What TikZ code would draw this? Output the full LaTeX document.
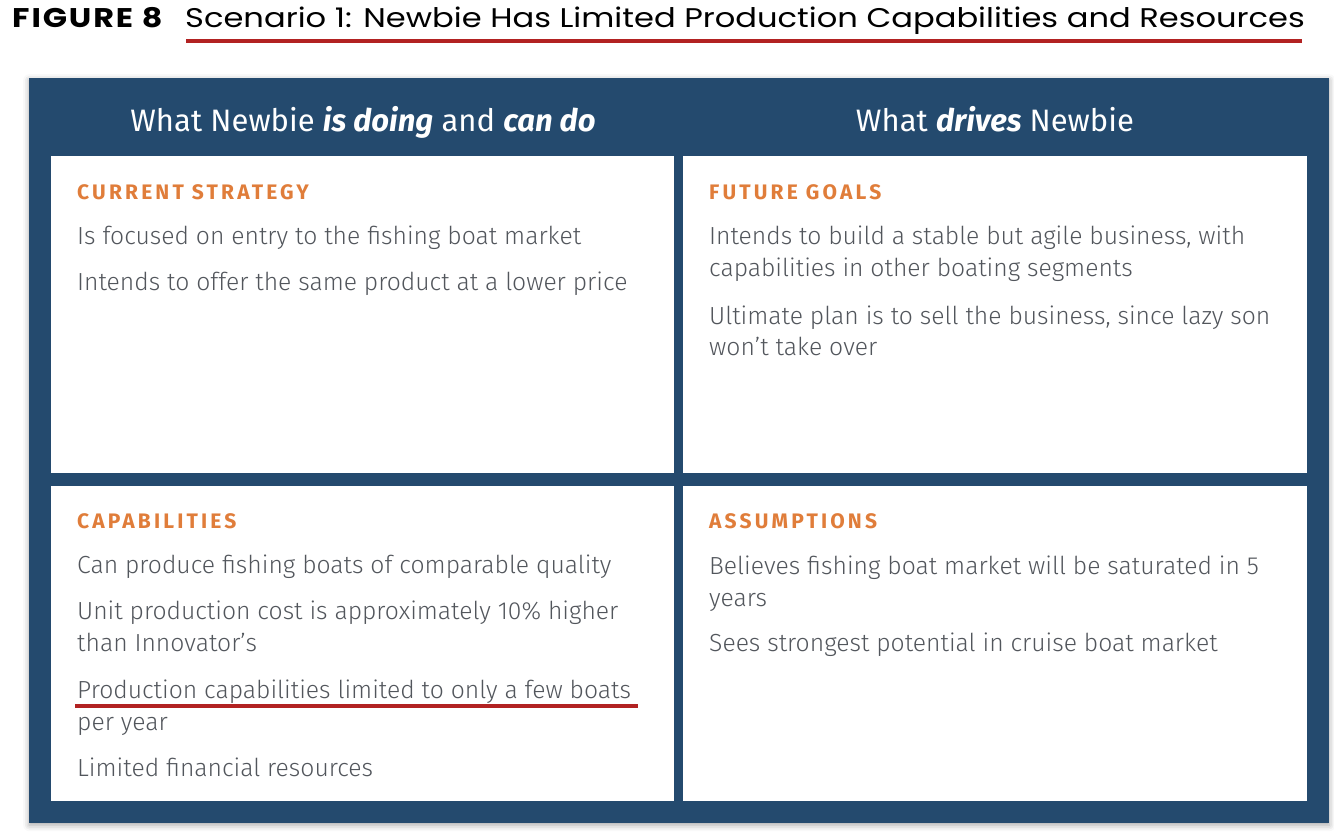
\documentclass[tikz,border=0pt]{standalone}
\usepackage{fontspec}
\setmainfont{Fira Sans}
\newfontfamily\bodyf{Fira Sans Light}
\newfontfamily\headf[LetterSpace=15]{Fira Sans}
\newfontfamily\titlef[FakeStretch=1.19]{Poppins}
\newfontfamily\figf[FakeStretch=1.18,LetterSpace=7]{Poppins}
\usetikzlibrary{shadows.blur}
\definecolor{navy}{RGB}{36,74,110}
\definecolor{orng}{RGB}{224,125,58}
\definecolor{txtgray}{RGB}{82,86,92}
\definecolor{redline}{RGB}{178,34,34}
\begin{document}
\begin{tikzpicture}[x=1pt,y=-1pt,
  panel/.style={fill=white,draw=none},
  colhead/.style={text=white,anchor=base,inner sep=0pt,font=\fontsize{31}{36}\selectfont},
  sechead/.style={text=orng,anchor=base west,inner sep=0pt,font=\headf\bfseries\fontsize{21}{24}\selectfont},
  bodytext/.style={text=txtgray,anchor=base west,inner sep=0pt,align=left,font=\bodyf\fontsize{24.7}{32}\selectfont},
  underl/.style={draw=redline,line width=3.2pt}]
\useasboundingbox (0,0) rectangle (1334,834);
% title
\node[anchor=base west,inner sep=0pt,font=\figf\bfseries\fontsize{27}{30}\selectfont] (fig) at (12,28) {FIGURE 8};
\node[anchor=base west,inner sep=0pt,font=\titlef\fontsize{27}{30}\selectfont] (title) at (185,28) {Scenario 1: Newbie Has Limited Production Capabilities and Resources};
\coordinate (t1) at (186,41);
\coordinate (t2) at (1302,41);
\draw[underl] (t1) -- (t2);
% frame
\node[fill=navy,minimum width=1300pt,minimum height=745pt,inner sep=0pt,anchor=north west,
  blur shadow={shadow xshift=0pt,shadow yshift=-2pt,shadow blur radius=6pt,shadow opacity=35}] (frame) at (29,78) {};
\node[panel,anchor=north west,minimum width=623pt,minimum height=317pt,inner sep=0pt] (p1) at (51,156) {};
\node[panel,anchor=north west,minimum width=624pt,minimum height=317pt,inner sep=0pt] (p2) at (683,156) {};
\node[panel,anchor=north west,minimum width=623pt,minimum height=315pt,inner sep=0pt] (p3) at (51,486) {};
\node[panel,anchor=north west,minimum width=624pt,minimum height=315pt,inner sep=0pt] (p4) at (683,486) {};
% column heads
\node[colhead] (h1) at (363,132) {What Newbie \textbf{\textit{is doing}} and \textbf{\textit{can do}}};
\node[colhead] (h2) at (995,132) {What \textbf{\textit{drives}} Newbie};
% panel 1 (multi-line nodes: base = baseline of last line)
\node[sechead] (s1) at (77,200) {CURRENT STRATEGY};
\node[bodytext] (b11) at (77,245) {Is focused on entry to the fishing boat market};
\node[bodytext] (b12) at (77,291) {Intends to offer the same product at a lower price};
% panel 2
\node[sechead] (s2) at (709,200) {FUTURE GOALS};
\node[bodytext] (b21) at (709,277) {Intends to build a stable but agile business, with\\capabilities in other boating segments};
\node[bodytext] (b22) at (709,356) {Ultimate plan is to sell the business, since lazy son\\won’t take over};
% panel 3
\node[sechead] (s3) at (77,528) {CAPABILITIES};
\node[bodytext] (b31) at (77,573) {Can produce fishing boats of comparable quality};
\node[bodytext] (b32) at (77,651) {Unit production cost is approximately 10\% higher\\than Innovator’s};
\node[bodytext] (b33) at (77,730) {Production capabilities limited to only a few boats\\per year};
\node[bodytext] (b34) at (77,776) {Limited financial resources};
\coordinate (u1) at (75,706);
\coordinate (u2) at (638,706);
\draw[underl] (u1) -- (u2);
% panel 4
\node[sechead] (s4) at (709,528) {ASSUMPTIONS};
\node[bodytext] (b41) at (709,606) {Believes fishing boat market will be saturated in 5\\years};
\node[bodytext] (b42) at (709,651) {Sees strongest potential in cruise boat market};
\end{tikzpicture}
\end{document}
